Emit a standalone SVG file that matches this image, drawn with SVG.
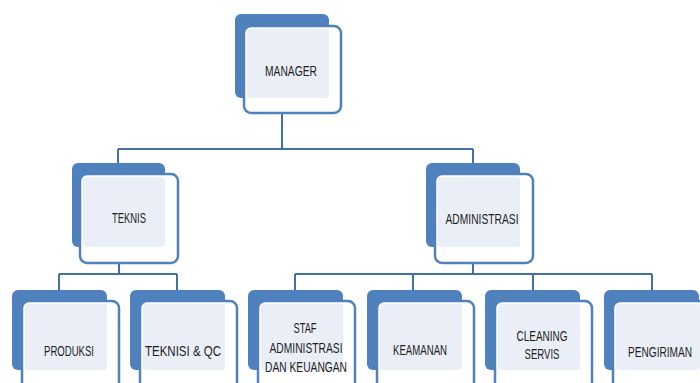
<svg xmlns="http://www.w3.org/2000/svg" width="700" height="383" viewBox="0 0 700 383">
<style>
.bk{fill:#4f81bd}
.fr{fill:#ffffff;stroke:#4f81bd;stroke-width:2.5}
.lt{fill:#e9eef7}
.tx{font-family:"Liberation Sans",Arial,sans-serif;font-size:15.5px;fill:#1e1e1e;text-anchor:middle}
.cn{fill:none;stroke:#4470aa;stroke-width:2}
</style>
<rect width="700" height="383" fill="#fff"/>
<g id="connectors">
<path class="cn" d="M282 113V149M118 149H473M118 149V164M473 149V164"/>
<path class="cn" d="M119 263V274M59 274H177M59 274V291M177 274V291"/>
<path class="cn" d="M473 263V274M295 274H652M295 274V291M413 274V291M533 274V291M652 274V291"/>
</g>
<g id="manager">
<rect class="bk" x="235" y="14" width="94" height="84" rx="6"/>
<rect class="fr" x="244" y="26" width="97" height="87" rx="7"/>
<rect class="lt" x="247" y="29" width="82" height="69" rx="3"/>
<text class="tx" x="291" y="76" textLength="52" lengthAdjust="spacingAndGlyphs">MANAGER</text>
</g>
<g id="teknis">
<rect class="bk" x="72" y="163" width="93" height="84" rx="6"/>
<rect class="fr" x="80" y="174" width="98" height="89" rx="7"/>
<rect class="lt" x="83" y="177" width="82" height="70" rx="3"/>
<text class="tx" x="129" y="223" textLength="34" lengthAdjust="spacingAndGlyphs">TEKNIS</text>
</g>
<g id="administrasi">
<rect class="bk" x="426" y="163" width="94" height="84" rx="6"/>
<rect class="fr" x="435" y="174" width="98" height="89" rx="7"/>
<rect class="lt" x="438" y="177" width="82" height="70" rx="3"/>
<text class="tx" x="482" y="224" textLength="73" lengthAdjust="spacingAndGlyphs">ADMINISTRASI</text>
</g>
<g id="produksi">
<rect class="bk" x="12" y="290" width="95" height="80" rx="6"/>
<rect class="fr" x="22" y="301" width="97" height="100" rx="7"/>
<rect class="lt" x="25" y="304" width="82" height="66" rx="3"/>
<text class="tx" x="69" y="356" textLength="50" lengthAdjust="spacingAndGlyphs">PRODUKSI</text>
</g>
<g id="teknisi-qc">
<rect class="bk" x="130" y="290" width="95" height="80" rx="6"/>
<rect class="fr" x="140" y="301" width="97" height="100" rx="7"/>
<rect class="lt" x="143" y="304" width="82" height="66" rx="3"/>
<text class="tx" x="183" y="356" textLength="76" lengthAdjust="spacingAndGlyphs">TEKNISI &amp; QC</text>
</g>
<g id="staf">
<rect class="bk" x="248" y="290" width="95" height="80" rx="6"/>
<rect class="fr" x="258" y="301" width="97" height="100" rx="7"/>
<rect class="lt" x="261" y="304" width="82" height="66" rx="3"/>
<text class="tx" x="305" y="333" textLength="23" lengthAdjust="spacingAndGlyphs">STAF</text>
<text class="tx" x="306" y="353" textLength="73" lengthAdjust="spacingAndGlyphs">ADMINISTRASI</text>
<text class="tx" x="306" y="372" textLength="82" lengthAdjust="spacingAndGlyphs">DAN KEUANGAN</text>
</g>
<g id="keamanan">
<rect class="bk" x="367" y="290" width="95" height="80" rx="6"/>
<rect class="fr" x="377" y="301" width="97" height="100" rx="7"/>
<rect class="lt" x="380" y="304" width="82" height="66" rx="3"/>
<text class="tx" x="420" y="355" textLength="54" lengthAdjust="spacingAndGlyphs">KEAMANAN</text>
</g>
<g id="cleaning">
<rect class="bk" x="485" y="290" width="95" height="80" rx="6"/>
<rect class="fr" x="495" y="301" width="97" height="100" rx="7"/>
<rect class="lt" x="498" y="304" width="82" height="66" rx="3"/>
<text class="tx" x="542" y="341" textLength="51" lengthAdjust="spacingAndGlyphs">CLEANING</text>
<text class="tx" x="542" y="359" textLength="35" lengthAdjust="spacingAndGlyphs">SERVIS</text>
</g>
<g id="pengiriman">
<rect class="bk" x="604" y="290" width="95" height="80" rx="6"/>
<rect class="fr" x="613" y="301" width="97" height="100" rx="7"/>
<rect class="lt" x="616" y="304" width="84" height="66" rx="3"/>
<text class="tx" x="660" y="357" textLength="64" lengthAdjust="spacingAndGlyphs">PENGIRIMAN</text>
</g>
</svg>
